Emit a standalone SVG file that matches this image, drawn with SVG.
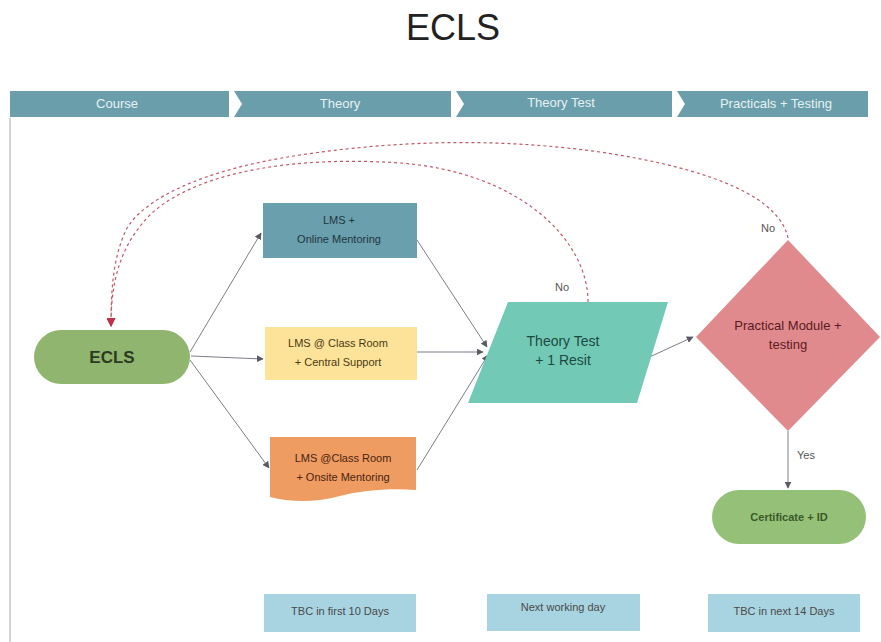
<svg xmlns="http://www.w3.org/2000/svg" width="881" height="642" viewBox="0 0 881 642">
<defs>
<style>
text{font-family:"Liberation Sans",Arial,sans-serif;text-anchor:middle}
.hdr{fill:#6a9eab}
.htxt{fill:#e6f1f4;font-size:13px}
.lbl{font-size:11px;fill:#333}
.conn{fill:none;stroke:#7d7d8a;stroke-width:1}
.dash{fill:none;stroke:#c45866;stroke-width:1.2;stroke-dasharray:3 3}
.note{fill:#a8d3e0}
.ntxt{font-size:11px;fill:#4a4a4a}
.small{font-size:11px;fill:#555}
</style>
<marker id="ah" viewBox="0 0 10 10" refX="9" refY="5" markerWidth="7" markerHeight="7" orient="auto" markerUnits="userSpaceOnUse">
<path d="M0,0 L10,5 L0,10 z" fill="#5a5a66"/>
</marker>
<marker id="ahr" viewBox="0 0 10 10" refX="9" refY="5" markerWidth="9" markerHeight="9" orient="auto" markerUnits="userSpaceOnUse">
<path d="M0,0 L10,5 L0,10 z" fill="#c0304a"/>
</marker>
</defs>
<rect width="881" height="642" fill="#ffffff"/>
<text x="453" y="40" style="font-size:36px;fill:#222">ECLS</text>

<g id="header">
<rect class="hdr" x="10" y="91" width="858" height="26"/>
<polygon points="229,91 234,91 242,104 234,117 229,117" fill="#ffffff"/>
<polygon points="451,91 456,91 464,104 456,117 451,117" fill="#ffffff"/>
<polygon points="672,91 677,91 685,104 677,117 672,117" fill="#ffffff"/>
<text class="htxt" x="117" y="108">Course</text>
<text class="htxt" x="340" y="108">Theory</text>
<text class="htxt" x="561" y="107">Theory Test</text>
<text class="htxt" x="776" y="108">Practicals + Testing</text>
</g>
<line x1="10" y1="118" x2="10" y2="642" stroke="#d4d4d4" stroke-width="2"/>

<g id="connectors">
<line class="conn" x1="190" y1="352" x2="261" y2="233" marker-end="url(#ah)"/>
<line class="conn" x1="191" y1="356" x2="263" y2="359" marker-end="url(#ah)"/>
<line class="conn" x1="190" y1="360" x2="269" y2="468" marker-end="url(#ah)"/>
<line class="conn" x1="417" y1="240" x2="487" y2="347" marker-end="url(#ah)"/>
<line class="conn" x1="417" y1="352" x2="483" y2="352" marker-end="url(#ah)"/>
<line class="conn" x1="417" y1="470" x2="488" y2="355" marker-end="url(#ah)"/>
<line class="conn" x1="643" y1="360" x2="693" y2="337" marker-end="url(#ah)"/>
<line class="conn" x1="788" y1="431" x2="788" y2="488" marker-end="url(#ah)"/>
<path class="dash" d="M588,302 C588,240 520,172 400,163 C300,156 200,170 152,213 C116,248 111,290 111,326" marker-end="url(#ahr)"/>
<path class="dash" d="M788,238 C780,200 720,170 600,152 C500,138 400,140 300,155 C200,170 142,200 126,230 C113,258 111,290 111,326" marker-end="url(#ahr)"/>
<text class="small" x="562" y="291">No</text>
<text class="small" x="768" y="232">No</text>
<text class="small" x="806" y="459">Yes</text>
</g>

<g id="ecls">
<rect x="34" y="330" width="156" height="54" rx="27" fill="#8fb56e"/>
<text x="112" y="363" style="font-size:17px;font-weight:bold;fill:#2b3a22">ECLS</text>
</g>

<g id="online">
<rect x="263" y="203" width="154" height="55" fill="#6a9fad"/>
<text class="lbl" x="339" y="224" style="fill:#1f3640">LMS +</text>
<text class="lbl" x="339" y="243" style="fill:#1f3640">Online Mentoring</text>
</g>

<g id="classroom">
<rect x="265" y="327" width="152" height="53" fill="#fde39a"/>
<text class="lbl" x="338" y="347" style="fill:#4a3a10">LMS @ Class Room</text>
<text class="lbl" x="338" y="366" style="fill:#4a3a10">+ Central Support</text>
</g>

<g id="onsite">
<path d="M270,437 H416 V490 C392,488 362,490 340,496 C315,503 290,502 270,497 Z" fill="#ee9c62"/>
<text class="lbl" x="343" y="462" style="fill:#4a2410">LMS @Class Room</text>
<text class="lbl" x="343" y="481" style="fill:#4a2410">+ Onsite Mentoring</text>
</g>

<g id="theorytest">
<polygon points="508,302 668,302 637,403 468,403" fill="#72c9b6"/>
<text x="563" y="346" style="font-size:14px;fill:#1d4a40">Theory Test</text>
<text x="563" y="365" style="font-size:14px;fill:#1d4a40">+ 1 Resit</text>
</g>

<g id="practical">
<polygon points="788,240 880,337 788,431 696,337" fill="#e08a8d"/>
<text x="788" y="330" style="font-size:13px;fill:#5a1a1e">Practical Module +</text>
<text x="788" y="349" style="font-size:13px;fill:#5a1a1e">testing</text>
</g>

<g id="certificate">
<rect x="712" y="490" width="154" height="54" rx="27" fill="#95c077"/>
<text x="789" y="521" style="font-size:11px;font-weight:bold;fill:#3a5a2a">Certificate + ID</text>
</g>

<g id="note1">
<rect class="note" x="264" y="594" width="152" height="38"/>
<text class="ntxt" x="340" y="615">TBC in first 10 Days</text>
</g>
<g id="note2">
<rect class="note" x="487" y="594" width="153" height="37"/>
<text class="ntxt" x="563" y="611">Next working day</text>
</g>
<g id="note3">
<rect class="note" x="708" y="594" width="152" height="38"/>
<text class="ntxt" x="784" y="615">TBC in next 14 Days</text>
</g>
</svg>
